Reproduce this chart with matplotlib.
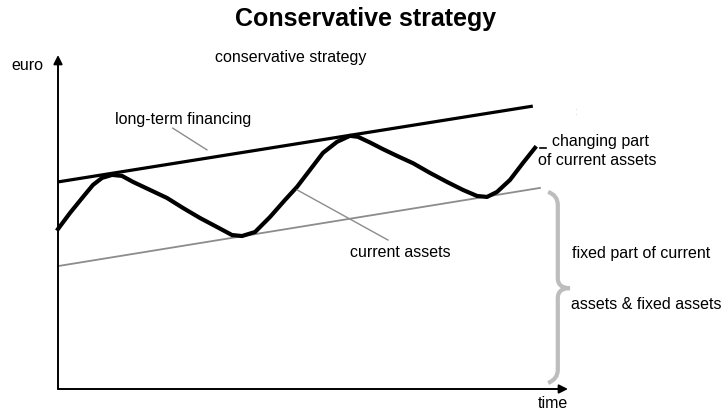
import numpy as np
import matplotlib.pyplot as plt
from matplotlib.path import Path
from matplotlib.patches import PathPatch

plt.rcParams['font.family'] = ['Liberation Sans', 'DejaVu Sans']

# time / euro values (axis runs 0..10 on both)
lt_time = [0.0, 9.31]
lt_euro = [6.20, 8.47]          # long-term financing

fixed_time = [0.0, 9.45]
fixed_euro = [3.68, 6.02]       # fixed part of current assets & fixed assets

ca_time = [0.000, 0.235, 0.490, 0.686, 0.863, 1.059, 1.255, 1.471, 1.804,
           2.137, 2.451, 2.784, 3.118, 3.412, 3.608, 3.863, 4.157, 4.451,
           4.686, 4.941, 5.196, 5.471, 5.725, 5.882, 6.118, 6.373, 6.647,
           6.961, 7.294, 7.627, 7.941, 8.216, 8.412, 8.608, 8.863, 9.118, 9.353]
ca_euro = [4.79, 5.27, 5.75, 6.11, 6.32, 6.41, 6.38, 6.20, 5.96,
           5.72, 5.42, 5.12, 4.85, 4.61, 4.58, 4.70, 5.15, 5.66,
           6.05, 6.56, 7.07, 7.40, 7.58, 7.55, 7.38, 7.18, 6.98,
           6.76, 6.47, 6.20, 5.96, 5.78, 5.75, 5.90, 6.26, 6.77, 7.22]  # current assets

fig = plt.figure(figsize=(7.27, 4.12), dpi=100)
ax = fig.add_axes([58/727, 23/412, 510/727, 334/412])
ax.set_xlim(0, 10)
ax.set_ylim(0, 10)
ax.axis('off')

fig.text(366/727, 1 - 19/412, 'Conservative strategy', ha='center', va='center',
         fontsize=18, fontweight='bold')

# axes with arrows
arrow = dict(arrowstyle='-|>', lw=1.4, color='black', mutation_scale=13, shrinkA=0, shrinkB=0)
ax.annotate('', xy=(0, 10), xytext=(0, 0), arrowprops=arrow, annotation_clip=False)
ax.annotate('', xy=(10, 0), xytext=(0, 0), arrowprops=arrow, annotation_clip=False)

ax.plot(lt_time, lt_euro, color='black', lw=2.3, solid_capstyle='butt', clip_on=False)
ax.plot(fixed_time, fixed_euro, color='#8c8c8c', lw=1.3, clip_on=False)
ax.plot(ca_time, ca_euro, color='black', lw=3.0, solid_joinstyle='round', clip_on=False)
ax.plot([9.45, 9.57], [7.22, 7.22], color='black', lw=1.2, clip_on=False)

# leader lines
ax.plot([2.25, 2.92], [7.81, 7.16], color='#8c8c8c', lw=1.0)
ax.plot([4.69, 6.47], [5.96, 4.46], color='#8c8c8c', lw=1.0)

# curly brace
verts = [(9.61, 5.90), (9.80, 5.80), (9.80, 5.51), (9.80, 3.32),
         (9.80, 3.10), (9.90, 3.02), (10.04, 3.02),
         (9.90, 3.02), (9.80, 2.94), (9.80, 2.72), (9.80, 0.57),
         (9.80, 0.30), (9.61, 0.18)]
codes = [Path.MOVETO, Path.CURVE3, Path.CURVE3, Path.LINETO,
         Path.CURVE4, Path.CURVE4, Path.CURVE4,
         Path.CURVE4, Path.CURVE4, Path.CURVE4, Path.LINETO,
         Path.CURVE3, Path.CURVE3]
ax.add_patch(PathPatch(Path(verts, codes), fill=False, edgecolor='#bdbdbd', lw=3.0, clip_on=False))

fs = 11.5
ax.text(-0.29, 9.70, 'euro', ha='right', va='center', fontsize=fs)
ax.text(3.08, 9.94, 'conservative strategy', ha='left', va='center', fontsize=fs)
ax.text(1.12, 8.08, 'long-term financing', ha='left', va='center', fontsize=fs)
ax.text(5.73, 4.10, 'current assets', ha='left', va='center', fontsize=fs)
ax.text(9.69, 7.40, 'changing part', ha='left', va='center', fontsize=fs, clip_on=False)
ax.text(9.41, 6.83, 'of current assets', ha='left', va='center', fontsize=fs, clip_on=False)
ax.text(10.08, 4.07, 'fixed part of current', ha='left', va='center', fontsize=fs, clip_on=False)
ax.text(10.06, 2.54, 'assets & fixed assets', ha='left', va='center', fontsize=fs, clip_on=False)
ax.text(9.71, -0.42, 'time', ha='center', va='center', fontsize=fs, clip_on=False)
ax.text(10.14, 8.29, ':', ha='center', va='center', fontsize=7, color='#c8c8c8', clip_on=False)

fig.savefig('out.png', dpi=100)
